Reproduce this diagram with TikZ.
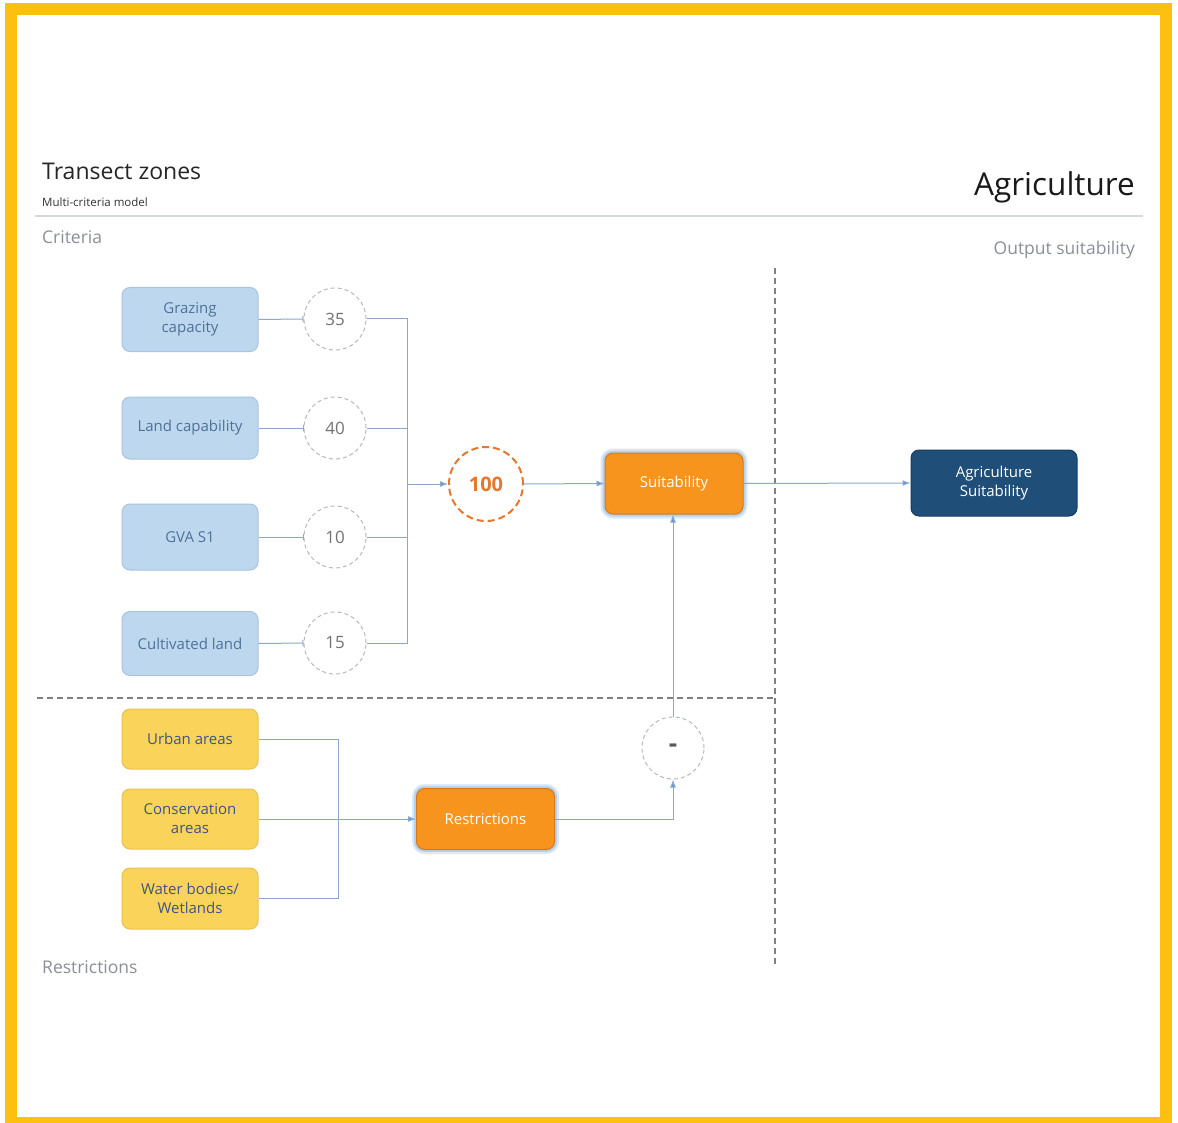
\documentclass[tikz,border=0pt]{standalone}
\usepackage{fontspec}
\setmainfont{Open Sans}
\usetikzlibrary{arrows.meta}
\definecolor{frameyellow}{HTML}{FDC010}
\definecolor{rulegray}{HTML}{D5D8DD}
\definecolor{labelgray}{HTML}{8A8F99}
\definecolor{critfill}{HTML}{BDD7EE}
\definecolor{critdraw}{HTML}{A8C4E0}
\definecolor{crittext}{HTML}{4F7199}
\definecolor{restfill}{HTML}{FAD35A}
\definecolor{restdraw}{HTML}{E8C24E}
\definecolor{resttext}{HTML}{3E5584}
\definecolor{procfill}{HTML}{F7941D}
\definecolor{procdraw}{HTML}{D9781A}
\definecolor{glowblue}{HTML}{9CC3EA}
\definecolor{outfill}{HTML}{1F4E79}
\definecolor{outdraw}{HTML}{173C5E}
\definecolor{connblue}{HTML}{8AA8CC}
\definecolor{tipblue}{HTML}{5B9BD5}
\definecolor{weightorange}{HTML}{E8772E}
\definecolor{divgray}{HTML}{808080}
\tikzset{
  boxfont/.style={font=\fontsize{15}{19}\selectfont},
  critbox/.style={rectangle, rounded corners=8, fill=critfill, draw=critdraw, line width=1,
    minimum width=136, minimum height=64, text=crittext, align=center, boxfont},
  restbox/.style={rectangle, rounded corners=8, fill=restfill, draw=restdraw, line width=1,
    minimum width=136, minimum height=60, text=resttext, align=center, boxfont},
  procbox/.style={rectangle, rounded corners=8, fill=procfill, draw=procdraw, line width=1,
    minimum width=138, minimum height=61, text=white, align=center, boxfont,
    preaction={draw=glowblue, line width=9, opacity=0.35},
    preaction={draw=glowblue, line width=5, opacity=0.6}},
  outbox/.style={rectangle, rounded corners=8, fill=outfill, draw=outdraw, line width=1,
    minimum width=166, minimum height=66, text=white, align=center, boxfont},
  weight/.style={circle, draw=gray!55, dashed, dash pattern=on 4pt off 3pt, line width=1,
    minimum size=62, inner sep=0, text=gray!90!black, font=\fontsize{17}{20}\selectfont},
  total/.style={circle, draw=weightorange, dash pattern=on 7pt off 4pt, line width=2,
    minimum size=74, inner sep=0, text=weightorange, font=\fontsize{20}{24}\selectfont\bfseries},
  conn/.style={draw=connblue, line width=1},
  flow/.style={conn, -{Latex[length=8pt,width=6pt,fill=tipblue]}},
  tick/.style={conn, -{Bar[width=6pt,line width=1pt]}},
  divider/.style={draw=divgray, line width=1.3, dash pattern=on 6pt off 4pt},
}
\begin{document}
\begin{tikzpicture}[x=1pt,y=-1pt]
\useasboundingbox (0,0) rectangle (1178,1123);
\fill[white] (0,0) rectangle (1178,1123);
\begin{scope}
  \clip (0,0) rectangle (1178,1123);
  \draw[frameyellow, line width=12] (10.5,9) rectangle (1166,1123);
\end{scope}

% header
\node[anchor=base west, inner sep=0, font=\fontsize{23}{26}\selectfont, text=black!85] (title) at (42,180) {Transect zones};
\node[anchor=base west, inner sep=0, font=\fontsize{11.5}{13}\selectfont, text=black!80] (subtitle) at (42,207) {Multi-criteria model};
\node[anchor=base east, inner sep=0, font=\fontsize{31.5}{35}\selectfont, text=black!90] (sector) at (1135,196) {Agriculture};
\draw[rulegray, line width=1.2] (35,216) -- (1143,216);
\node[anchor=base west, inner sep=0, font=\fontsize{17.5}{20}\selectfont, text=labelgray] (critlbl) at (42,244) {Criteria};
\node[anchor=base east, inner sep=0, font=\fontsize{17.5}{20}\selectfont, text=labelgray] (outlbl) at (1135,255) {Output suitability};
\node[anchor=base west, inner sep=0, font=\fontsize{17.5}{20}\selectfont, text=labelgray] (restlbl) at (42,973) {Restrictions};

% zone dividers
\draw[divider] (775,268) -- (775,965);
\draw[divider] (37,698) -- (775,698);

% criteria
\node[critbox] (graz) at (190,319.5) {Grazing\\capacity};
\node[critbox, minimum height=62] (land) at (190,428) {Land capability};
\node[critbox, minimum height=66] (gva) at (190,537) {GVA S1};
\node[critbox] (cult) at (190,643.5) {Cultivated land};

\node[weight] (w1) at (335,319) {35};
\node[weight] (w2) at (335,428) {40};
\node[weight] (w3) at (335,537) {10};
\node[weight] (w4) at (335,643) {15};

\node[total] (sum) at (486,484) {100};
\node[procbox] (suit) at (674,483.5) {Suitability};
\node[outbox] (agri) at (994,483) {Agriculture\\Suitability};

% restrictions
\node[restbox] (urban) at (190,739) {Urban areas};
\node[restbox] (cons) at (190,819) {Conservation\\areas};
\node[restbox, minimum height=61] (water) at (190,898.5) {Water bodies/\\Wetlands};
\node[procbox] (restr) at (485.5,819) {Restrictions};
\node[weight, font=\fontsize{26}{26}\selectfont\bfseries, text=gray!70!black] (minus) at (673,748) {-};

% criteria connectors
\draw[tick] (graz.east) -- (w1.west);
\draw[tick] (land.east) -- (w2.west);
\draw[tick] (gva.east) -- (w3.west);
\draw[tick] (cult.east) -- (w4.west);
\coordinate (cj) at (407,484);
\draw[conn] (w1.east) -| (cj);
\draw[conn] (w2.east) -| (cj);
\draw[conn] (w3.east) -| (cj);
\draw[conn] (w4.east) -| (cj);
\draw[flow] (cj) -- (sum.west);
\draw[flow] (sum.east) -- (suit.west);
\draw[flow] (suit.east) -- (agri.west);

% restriction connectors
\coordinate (rj) at (338,819);
\draw[conn] (urban.east) -| (rj);
\draw[conn] (water.east) -| (rj);
\draw[conn] (cons.east) -- (rj);
\draw[flow] (rj) -- (restr.west);
\draw[flow] (restr.east) -| (minus.south);
\draw[flow] (minus.north) -- (minus.north |- suit.south);
\end{tikzpicture}
\end{document}
